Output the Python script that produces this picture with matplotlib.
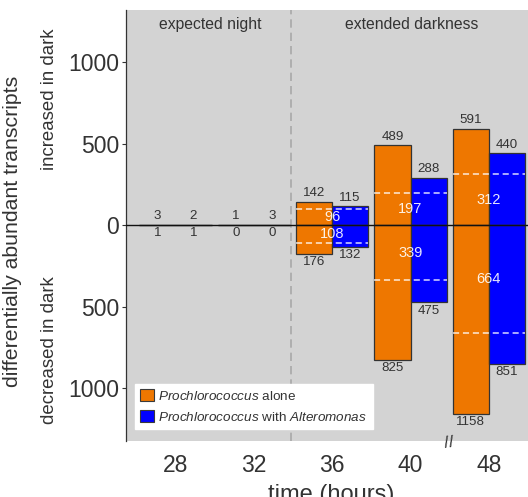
import matplotlib
matplotlib.use("Agg")
import matplotlib.pyplot as plt
import numpy as np
from matplotlib.patches import Patch
import matplotlib.transforms as mtransforms

plt.rcParams['font.family'] = ['Liberation Sans', 'DejaVu Sans']
plt.rcParams['mathtext.fontset'] = 'custom'
plt.rcParams['mathtext.it'] = 'Liberation Sans:italic'
plt.rcParams['mathtext.rm'] = 'Liberation Sans'

# ---- data ----
times = ['28', '32', '36', '40', '48']
alone_up = [3, 1, 142, 489, 591]
alone_down = [1, 0, 176, 825, 1158]
with_up = [2, 3, 115, 288, 440]
with_down = [1, 0, 132, 475, 851]
shared_up = [None, None, 96, 197, 312]
shared_down = [None, None, 108, 339, 664]
ytick_vals = [-1000, -500, 0, 500, 1000]

ORANGE = '#EE7700'
BLUE = '#0000FF'
TXT = '#333333'
BG = '#D3D3D3'

fig = plt.figure(figsize=(5.28, 4.97), dpi=100)
ax = fig.add_axes([126/528, 56/497, 1 - 126/528, (441-10)/497])
ax.set_facecolor(BG)

x = np.arange(len(times))
w = 0.46
xo = x - w/2
xb = x + w/2
up_a = np.array(alone_up); dn_a = -np.array(alone_down)
up_b = np.array(with_up); dn_b = -np.array(with_down)

kw = dict(width=w, edgecolor='#333333', linewidth=0.9, zorder=2)
ax.bar(xo, up_a, color=ORANGE, **kw)
ax.bar(xo, dn_a, color=ORANGE, **kw)
ax.bar(xb, up_b, color=BLUE, **kw)
ax.bar(xb, dn_b, color=BLUE, **kw)

# value labels
for i in range(len(times)):
    for xc, u, d in ((xo[i], alone_up[i], alone_down[i]), (xb[i], with_up[i], with_down[i])):
        ax.annotate(str(u), (xc, u), xytext=(0, 2), textcoords='offset points',
                    ha='center', va='bottom', fontsize=9.6, color=TXT, zorder=5)
        ax.annotate(str(d), (xc, -d), xytext=(0, -1.5), textcoords='offset points',
                    ha='center', va='top', fontsize=9.6, color=TXT, zorder=5)
    for s, sign in ((shared_up[i], 1), (shared_down[i], -1)):
        if s is None:
            continue
        ax.plot([xo[i] - w/2, xb[i] + w/2], [sign*s, sign*s], color='white',
                lw=1.1, ls=(0, (4, 2.5)), alpha=0.85, zorder=3)
        ax.text(x[i], sign*s/2, str(s), ha='center', va='center', fontsize=10.5,
                color='white', alpha=0.9, zorder=4)

ax.axhline(0, color='#111111', lw=1.0, zorder=4)
ax.axvline(1.48, color='#A8A8A8', lw=1.2, ls=(0, (5, 3)), zorder=1)

ax.set_xlim(-0.632, 4.50)
ax.set_ylim(-1325, 1320)
ax.set_xticks(x)
ax.set_xticklabels(times, fontsize=16.5, color=TXT)
ax.set_yticks(ytick_vals)
ax.set_yticklabels([str(abs(v)) for v in ytick_vals], fontsize=16.5, color=TXT)
ax.tick_params(axis='x', length=0, pad=9)
ax.tick_params(axis='y', length=3, width=0.8, color='#333333', pad=2)
for s in ('top', 'right', 'bottom'):
    ax.spines[s].set_visible(False)
ax.spines['left'].set_color('#333333')
ax.spines['left'].set_linewidth(0.9)

ax.text(0.44, 1232, 'expected night', ha='center', va='center', fontsize=11.3, color=TXT)
ax.text(3.02, 1232, 'extended darkness', ha='center', va='center', fontsize=11.3, color=TXT)

# axis break mark
trans = mtransforms.blended_transform_factory(ax.transData, ax.transAxes)
ax.text(3.5, -0.004, '//', transform=trans, ha='center', va='center', fontsize=12.5,
        color=TXT, clip_on=False, rotation=8)

handles = [Patch(facecolor=ORANGE, edgecolor='#3a3a3a', lw=0.8),
           Patch(facecolor=BLUE, edgecolor='#3a3a3a', lw=0.8)]
labels = [r'$\it{Prochlorococcus}$ alone',
          r'$\it{Prochlorococcus}$ with $\it{Alteromonas}$']
leg = ax.legend(handles, labels, loc='lower left', bbox_to_anchor=(0.022, 0.028),
                fontsize=9.7, frameon=True, fancybox=False, framealpha=1,
                edgecolor='white', handlelength=1.0, handleheight=0.95,
                handletextpad=0.35, labelspacing=0.55, borderpad=0.4,
                borderaxespad=0)
for t in leg.get_texts():
    t.set_color(TXT)

fig.text(13/528, 1 - 231/497, 'differentially abundant transcripts', rotation=90,
         ha='center', va='center', fontsize=15.3, color=TXT)
fig.text(50/528, 1 - 99/497, 'increased in dark', rotation=90,
         ha='center', va='center', fontsize=13.4, color=TXT)
fig.text(50/528, 1 - 350/497, 'decreased in dark', rotation=90,
         ha='center', va='center', fontsize=13.4, color=TXT)
fig.text(331/528, 13/497, 'time (hours)', ha='center', va='top', fontsize=17, color=TXT)

fig.savefig('out.png', dpi=100)
